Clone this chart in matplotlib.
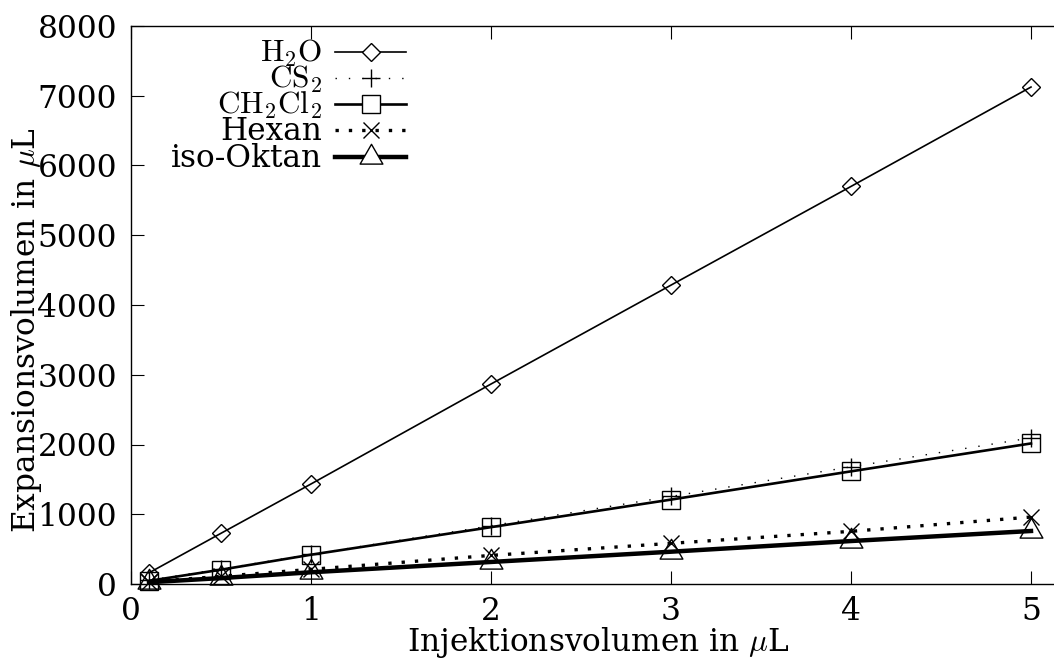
import matplotlib
matplotlib.use("Agg")
import matplotlib.pyplot as plt
from matplotlib.path import Path

plt.rcParams['font.family'] = ['DejaVu Serif']
plt.rcParams['mathtext.fontset'] = 'cm'

# ---- data ----
x_inj = [0.1, 0.5, 1, 2, 3, 4, 5]
h2o = [160, 727, 1434, 2867, 4285, 5700, 7125]
cs2 = [55, 215, 425, 835, 1255, 1680, 2095]
ch2cl2 = [45, 205, 420, 815, 1210, 1615, 2015]
hexan = [30, 110, 210, 410, 583, 755, 960]
isooktan = [25, 85, 168, 316, 463, 616, 760]

labels = [r'$\mathrm{H_2O}$', r'$\mathrm{CS_2}$', r'$\mathrm{CH_2Cl_2}$', 'Hexan', 'iso-Oktan']
x_ticks = [0, 1, 2, 3, 4, 5]
y_ticks = [0, 1000, 2000, 3000, 4000, 5000, 6000, 7000, 8000]
xlabel = r'Injektionsvolumen in $\mu$L'
ylabel = r'Expansionsvolumen in $\mu$L'

FS = 22.5

# gnuplot-like triangle marker with its centroid at the data point
tri = Path([(0, 13.33), (-11.5, -6.67), (11.5, -6.67), (0, 13.33)],
           [Path.MOVETO, Path.LINETO, Path.LINETO, Path.CLOSEPOLY])

styles = [
    dict(lw=1.2, ls='-', marker='D', ms=9.3, mew=1.0),
    dict(lw=1.0, ls=(0, (1, 8.6)), marker='+', ms=13, mew=1.0),
    dict(lw=1.9, ls='-', marker='s', ms=12.5, mew=1.0),
    dict(lw=2.4, ls=(0, (1, 3)), marker='x', ms=12, mew=1.0),
    dict(lw=3.2, ls='-', marker=tri, ms=19, mew=1.0),
]
series = [h2o, cs2, ch2cl2, hexan, isooktan]

W, H = 1054, 664
fig = plt.figure(figsize=(W / 100, H / 100), dpi=100)
ax_left, ax_right, ax_top, ax_bottom = 131, 1067, 26, 584
ax = fig.add_axes([ax_left / W, 1 - ax_bottom / H,
                   (ax_right - ax_left) / W, (ax_bottom - ax_top) / H])

for ys, st in zip(series, styles):
    ax.plot(x_inj, ys, color='black', lw=st['lw'], ls=st['ls'],
            marker=st['marker'], ms=st['ms'], mew=st['mew'],
            mfc='none', mec='black', clip_on=False, zorder=3)

ax.set_xlim(0, 5.2)
ax.set_ylim(0, 8000)
ax.set_xticks(x_ticks)
ax.set_yticks(y_ticks)
ax.tick_params(direction='in', length=9.5, width=0.8, labelsize=FS,
               top=True, right=False)
ax.tick_params(axis='x', pad=9)
ax.tick_params(axis='y', pad=10)
for s in ax.spines.values():
    s.set_linewidth(1.0)
ax.spines['right'].set_visible(False)

fig.text(598 / W, 1 - 643 / H, xlabel, ha='center', va='center', fontsize=FS)
fig.text(27 / W, 1 - 330 / H, ylabel, ha='center', va='center',
         rotation=90, fontsize=FS)

# ---- key (gnuplot style: right-aligned text, sample on the right) ----
row_px = [52, 78, 104, 130, 157]
tx = (322 - ax_left) / (ax_right - ax_left)
lx0 = (335 - ax_left) / (ax_right - ax_left)
lx1 = (406 - ax_left) / (ax_right - ax_left)
for lab, st, rp in zip(labels, styles, row_px):
    ya = (ax_bottom - rp) / (ax_bottom - ax_top)
    yb = (ax_bottom - rp - 10) / (ax_bottom - ax_top)
    ax.text(tx, yb, lab, transform=ax.transAxes, ha='right', va='baseline',
            fontsize=FS)
    ax.plot([lx0, lx1], [ya, ya], transform=ax.transAxes, color='black',
            lw=st['lw'], ls=st['ls'], clip_on=False)
    ax.plot([(lx0 + lx1) / 2], [ya], transform=ax.transAxes,
            marker=st['marker'], ms=st['ms'], mew=st['mew'], mfc='white',
            mec='black', ls='none', clip_on=False)

fig.savefig('out.png', dpi=100)
